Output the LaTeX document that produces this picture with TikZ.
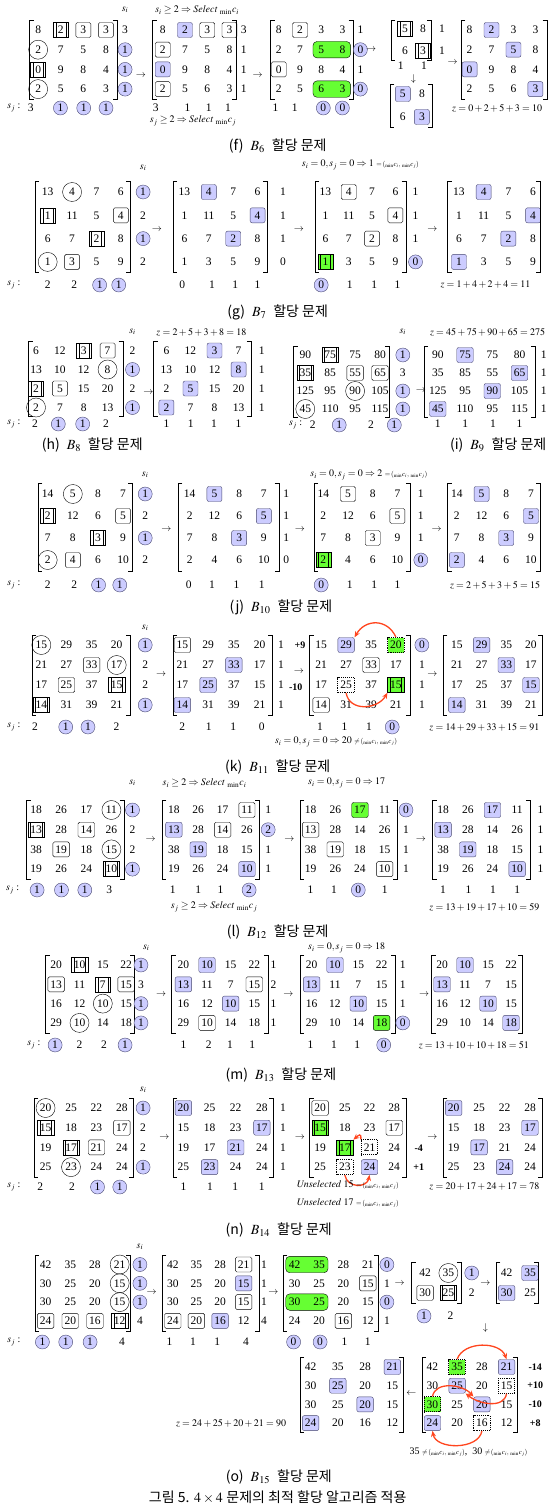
\documentclass[tikz,border=0pt]{standalone}
\usepackage{mathptmx}
\usepackage{fontspec}
\setmainfont{Liberation Serif}
\newfontfamily\cjk{Noto Sans CJK KR}
\usepackage{xcolor}
\usetikzlibrary{arrows.meta,calc,fit}
\pgfdeclarelayer{bg}
\pgfsetlayers{bg,main}

\definecolor{selblue}{RGB}{204,204,255}
\definecolor{selline}{RGB}{70,70,110}
\definecolor{grn}{RGB}{102,255,51}
\definecolor{redarc}{RGB}{255,69,30}

\newcommand{\nfont}{\rmfamily\fontsize{11.5}{12}\selectfont}
\newcommand{\lfont}{\rmfamily\fontsize{10}{11}\selectfont}
\newcommand{\cfont}{\fontsize{14}{16}\selectfont}

\tikzset{
  cell/.style={inner xsep=2.5pt, inner ysep=1pt, minimum width=15pt, minimum height=15pt, font=\nfont},
  pl/.style={},
  ci/.style={circle, draw, minimum size=19pt, inner sep=0pt},
  bx/.style={draw, rounded corners=1.5pt},
  db/.style={draw, path picture={\draw ([xshift=2.5pt]path picture bounding box.north west) -- ([xshift=2.5pt]path picture bounding box.south west) ([xshift=-2.5pt]path picture bounding box.north east) -- ([xshift=-2.5pt]path picture bounding box.south east);}},
  sl/.style={draw=selline, fill=selblue, rounded corners=2pt},
  gr/.style={draw, fill=grn, rounded corners=2pt},
  gd/.style={db, fill=grn},
  dt/.style={draw, densely dotted, line width=0.9pt},
  gt/.style={dt, fill=grn},
  bc/.style={circle, draw=selline, fill=selblue, minimum size=14pt, inner sep=0pt},
  grpair/.style={draw, fill=grn, rounded corners=4pt, inner sep=0.5pt},
  brkline/.style={line width=0.5pt},
  lbl/.style={font=\lfont, inner sep=1pt},
  arr/.style={font=\lfont, inner sep=0pt},
  dlt/.style={font=\lfont\bfseries, inner sep=0pt},
  capt/.style={font=\cfont, inner sep=0pt},
  redarr/.style={draw=redarc, line width=1.3pt, -{Stealth[length=6pt,width=5pt]}}
}

% matrix of cells: name, columns, x, y, dx, dy, value/style list
\newcommand{\mtx}[7]{%
  \foreach \val/\sty [count=\idx from 0] in {#7}{%
    \pgfmathtruncatemacro\rr{div(\idx,#2)+1}%
    \pgfmathtruncatemacro\cc{mod(\idx,#2)+1}%
    \node[cell,\sty] (#1-\rr-\cc) at ({#3+(\cc-1)*#5},{#4+(\rr-1)*#6}) {\val};
  }%
}
\newcommand{\scol}[5]{%
  \foreach \val/\sty [count=\idx] in {#5}{%
    \node[cell,\sty] (#1-\idx) at (#2,{#3+(\idx-1)*#4}) {\val};
  }%
}
\newcommand{\srow}[3]{%
  \foreach \xx/\val/\sty [count=\idx] in {#3}{%
    \node[cell,\sty] (#1-\idx) at (\xx,#2) {\val};
  }%
}
\newcommand{\brk}[4]{%
  \draw[brkline] ({#1+4},#3) -- (#1,#3) -- (#1,#4) -- ({#1+4},#4);
  \draw[brkline] ({#2-4},#3) -- (#2,#3) -- (#2,#4) -- ({#2-4},#4);
}
\newcommand{\pmin}[1]{{\fontsize{7}{8}\selectfont$#1\!({}_{\min}c_i,\,{}_{\min}c_j)$}}
\newcommand{\panelcap}[2]{{\cjk (#1)}\ \ $B_{#2}$\ \ {\cjk 할당 문제}}

\begin{document}
\begin{tikzpicture}[x=1.06pt,y=-1pt]
\useasboundingbox (0,0) rectangle (522.6,1509);

% (f)
\node[lbl] (f-si) at (118,10) {$s_i$};
\node[lbl] (f-top) at (186,10) {$s_i\geq 2\Rightarrow \mathit{Select}\ {}_{\min}c_i$};
\mtx{f1}{4}{36}{30}{21.3}{19.7}{8/pl,2/db,3/bx,3/bx,2/ci,7/pl,5/pl,8/pl,0/db,9/pl,8/pl,4/pl,2/ci,5/pl,6/pl,3/pl}
\brk{28}{111}{20}{99}
\scol{f1s}{118}{30}{19.7}{3/pl,1/bc,1/bc,1/bc}
\node[lbl] (f-sj) at (13,108) {$s_j$ :};
\srow{f1t}{108}{29/3/pl,57/1/bc,79/1/bc,100/1/bc}
\node[arr] (f-a1) at (133,76) {$\rightarrow$};
\mtx{f2}{4}{153.5}{30}{21}{19.7}{8/pl,2/sl,3/bx,3/bx,2/bx,7/pl,5/pl,8/pl,0/sl,9/pl,8/pl,4/pl,2/bx,5/pl,6/pl,3/pl}
\brk{144}{223}{20}{99}
\scol{f2s}{230}{30}{19.7}{3/pl,1/pl,1/pl,1/pl}
\srow{f2t}{108}{147/3/pl,177/1/pl,197/1/pl,215/1/pl}
\node[lbl] (f-bot) at (182,121) {$s_j\geq 2\Rightarrow \mathit{Select}\ {}_{\min}c_j$};
\node[arr] (f-a2) at (243,76) {$\rightarrow$};
\mtx{f3}{4}{263}{30}{20}{19.7}{8/pl,2/bx,3/pl,3/pl,2/pl,7/pl,5/pl,8/pl,0/bx,9/pl,8/pl,4/pl,2/pl,5/pl,6/pl,3/pl}
\begin{pgfonlayer}{bg}
\node[grpair, fit=(f3-2-3)(f3-2-4)] (f3-g1) {};
\node[grpair, fit=(f3-4-3)(f3-4-4)] (f3-g2) {};
\end{pgfonlayer}
\brk{255}{333}{20}{99}
\scol{f3s}{340}{30}{19.7}{1/pl,0/bc,1/pl,0/bc}
\srow{f3t}{108}{260/1/pl,278/1/pl,305/0/bc,323/0/bc}
\node[arr] (f-a3) at (350,50) {$\rightarrow$};
\mtx{f4}{2}{382}{29}{17}{22}{5/db,8/pl,6/pl,3/db}
\brk{369}{407}{20}{60}
\scol{f4s}{417}{29}{22}{1/pl,1/pl}
\srow{f4t}{66}{378/1/pl,400/1/pl}
\node[arr] (f-a4) at (390,79) {$\downarrow$};
\mtx{f5}{2}{380}{94}{18}{23}{5/sl,8/pl,6/pl,3/sl}
\brk{368}{408}{84}{127}
\node[arr] (f-a5) at (427,63) {$\rightarrow$};
\mtx{f6}{4}{443}{30}{20.7}{19.7}{8/pl,2/sl,3/pl,3/pl,2/pl,7/pl,5/sl,8/pl,0/sl,9/pl,8/pl,4/pl,2/pl,5/pl,6/pl,3/sl}
\brk{435}{516}{20}{99}
\node[lbl] (f-z) at (469,108) {$z=0+2+5+3=10$};
\node[capt] (f-cap) at (262,146) {\panelcap{f}{6}};

% (g)
\node[lbl] (g-si) at (135,168) {$s_i$};
\node[lbl] (g-top) at (340,165) {$s_i=0,s_j=0\Rightarrow 1$ \pmin{=}};
\mtx{g1}{4}{45}{192}{23}{23.3}{13/pl,4/ci,7/pl,6/pl,1/db,11/pl,5/pl,4/bx,6/pl,7/pl,2/db,8/pl,1/ci,3/bx,5/pl,9/pl}
\brk{33}{123}{181}{272}
\scol{g1s}{135}{192}{23.3}{1/bc,2/pl,1/bc,2/pl}
\node[lbl] (g-sj) at (13,285) {$s_j$ :};
\srow{g1t}{285}{45/2/pl,70/2/pl,94/1/bc,112/1/bc}
\node[arr] (g-a1) at (148,230) {$\rightarrow$};
\mtx{g2}{4}{174}{192}{23}{23.3}{13/pl,4/sl,7/pl,6/pl,1/pl,11/pl,5/pl,4/sl,6/pl,7/pl,2/sl,8/pl,1/pl,3/pl,5/pl,9/pl}
\brk{163}{252}{181}{272}
\scol{g2s}{267}{192}{23.3}{1/pl,1/pl,1/pl,0/pl}
\srow{g2t}{285}{172/0/pl,200/1/pl,222/1/pl,243/1/pl}
\node[arr] (g-a2) at (282,230) {$\rightarrow$};
\mtx{g3}{4}{307}{192}{22}{23.3}{13/pl,4/bx,7/pl,6/pl,1/pl,11/pl,5/pl,4/bx,6/pl,7/pl,2/bx,8/pl,1/gd,3/pl,5/pl,9/pl}
\brk{297}{383}{181}{272}
\scol{g3s}{392}{192}{23.3}{1/pl,1/pl,1/pl,0/bc}
\srow{g3t}{285}{303/0/bc,330/1/pl,353/1/pl,375/1/pl}
\node[arr] (g-a3) at (408,230) {$\rightarrow$};
\mtx{g4}{4}{433}{192}{23.3}{23.3}{13/pl,4/sl,7/pl,6/pl,1/pl,11/pl,5/pl,4/sl,6/pl,7/pl,2/sl,8/pl,1/sl,3/pl,5/pl,9/pl}
\brk{422}{510}{181}{272}
\node[lbl] (g-z) at (458,285) {$z=1+4+2+4=11$};
\node[capt] (g-cap) at (262,312) {\panelcap{g}{7}};

% (h)
\node[lbl] (h-si) at (125,332) {$s_i$};
\node[lbl] (h-z) at (190,332) {$z=2+5+3+8=18$};
\mtx{h1}{4}{34}{350.5}{22.5}{19}{6/pl,12/pl,3/db,7/bx,13/pl,10/pl,12/pl,8/ci,2/db,5/bx,15/pl,20/pl,2/ci,7/pl,8/pl,13/pl}
\brk{27}{116}{341}{416}
\scol{h1s}{125}{350.5}{19}{2/pl,1/bc,2/pl,1/bc}
\node[lbl] (h-sj) at (13,424) {$s_j$ :};
\srow{h1t}{424}{33/2/pl,55/1/bc,78/1/bc,100/2/pl}
\node[arr] (h-a1) at (140,393) {$\rightarrow$};
\mtx{h2}{4}{157}{350.5}{22.7}{19}{6/pl,12/pl,3/sl,7/pl,13/pl,10/pl,12/pl,8/sl,2/pl,5/sl,15/pl,20/pl,2/sl,7/pl,8/pl,13/pl}
\brk{145}{237}{341}{416}
\scol{h2s}{247}{350.5}{19}{1/pl,1/pl,1/pl,1/pl}
\srow{h2t}{424}{157/1/pl,180/1/pl,202/1/pl,225/1/pl}
\node[capt] (h-cap) at (87,445) {\panelcap{h}{8}};

% (i)
\node[lbl] (i-si) at (380,332) {$s_i$};
\node[lbl] (i-z) at (460,332) {$z=45+75+90+65=275$};
\mtx{i1}{4}{288}{355}{23.5}{18}{90/pl,75/db,75/pl,80/pl,35/db,85/pl,55/bx,65/bx,125/pl,95/pl,90/ci,105/pl,45/ci,110/pl,95/pl,115/pl}
\brk{277}{367}{346}{417}
\scol{i1s}{380}{355}{18}{1/bc,3/pl,1/bc,1/bc}
\node[lbl] (i-sj) at (279,425) {$s_j$ :};
\srow{i1t}{425}{295/2/pl,320/1/bc,350/2/pl,372/1/bc}
\node[arr] (i-a1) at (397,391) {$\rightarrow$};
\mtx{i2}{4}{413}{355}{25.7}{18}{90/pl,75/sl,75/pl,80/pl,35/pl,85/pl,55/pl,65/sl,125/pl,95/pl,90/sl,105/pl,45/sl,110/pl,95/pl,115/pl}
\brk{400}{505}{346}{417}
\scol{i2s}{513}{355}{18}{1/pl,1/pl,1/pl,1/pl}
\srow{i2t}{424}{413/1/pl,439/1/pl,465/1/pl,490/1/pl}
\node[capt] (i-cap) at (470,445) {\panelcap{i}{9}};

% (j)
\node[lbl] (j-si) at (137,475) {$s_i$};
\node[lbl] (j-top) at (348,475) {$s_i=0,s_j=0\Rightarrow 2$ \pmin{=}};
\mtx{j1}{4}{45}{494}{23.7}{22}{14/pl,5/ci,8/pl,7/pl,2/db,12/pl,6/pl,5/bx,7/pl,8/pl,3/db,9/pl,2/ci,4/bx,6/pl,10/pl}
\brk{36}{125}{483}{571}
\scol{j1s}{137}{494}{22}{1/bc,2/pl,1/bc,2/pl}
\node[lbl] (j-sj) at (13,585) {$s_j$ :};
\srow{j1t}{585}{45/2/pl,70/2/pl,93/1/bc,113/1/bc}
\node[arr] (j-a1) at (157,530) {$\rightarrow$};
\mtx{j2}{4}{179}{494}{23.3}{22}{14/pl,5/sl,8/pl,7/pl,2/pl,12/pl,6/pl,5/sl,7/pl,8/pl,3/sl,9/pl,2/pl,4/pl,6/pl,10/pl}
\brk{168}{263}{483}{571}
\scol{j2s}{270}{494}{22}{1/pl,1/pl,1/pl,0/pl}
\srow{j2t}{585}{178/0/pl,200/1/pl,223/1/pl,247/1/pl}
\node[arr] (j-a2) at (283,530) {$\rightarrow$};
\mtx{j3}{4}{305}{494}{23.3}{22}{14/pl,5/bx,8/pl,7/pl,2/pl,12/pl,6/pl,5/bx,7/pl,8/pl,3/bx,9/pl,2/gd,4/pl,6/pl,10/pl}
\brk{296}{387}{483}{571}
\scol{j3s}{397}{494}{22}{1/pl,1/pl,1/pl,0/bc}
\srow{j3t}{585}{303/0/bc,330/1/pl,353/1/pl,375/1/pl}
\node[arr] (j-a3) at (412,530) {$\rightarrow$};
\mtx{j4}{4}{431}{494}{23.3}{22}{14/pl,5/sl,8/pl,7/pl,2/pl,12/pl,6/pl,5/sl,7/pl,8/pl,3/sl,9/pl,2/sl,4/pl,6/pl,10/pl}
\brk{422}{510}{483}{571}
\node[lbl] (j-z) at (467,585) {$z=2+5+3+5=15$};
\node[capt] (j-cap) at (265,607) {\panelcap{j}{10}};

% (k)
\node[lbl] (k-si) at (137,628) {$s_i$};
\mtx{k1}{4}{39}{645}{23.7}{20}{15/ci,29/pl,35/pl,20/pl,21/pl,27/pl,33/bx,17/ci,17/pl,25/bx,37/pl,15/db,14/db,31/pl,39/pl,21/pl}
\brk{30}{123}{635}{715}
\scol{k1s}{137}{645}{20}{1/bc,2/pl,2/pl,1/bc}
\node[lbl] (k-sj) at (13,727) {$s_j$ :};
\srow{k1t}{727}{33/2/pl,62/1/bc,83/1/bc,110/2/pl}
\node[arr] (k-a1) at (152,675) {$\rightarrow$};
\mtx{k2}{4}{172}{645}{24.3}{20}{15/bx,29/pl,35/pl,20/pl,21/pl,27/pl,33/sl,17/pl,17/pl,25/sl,37/pl,15/pl,14/sl,31/pl,39/pl,21/pl}
\brk{163}{257}{635}{715}
\scol{k2s}{265}{645}{20}{1/pl,1/pl,1/pl,1/pl}
\srow{k2t}{727}{172/2/pl,197/1/pl,220/1/pl,247/0/pl}
\node[dlt] (k-d1) at (283,645) {+9};
\node[arr] (k-a2) at (282,672) {$\rightarrow$};
\node[dlt] (k-d2) at (279,687) {-10};
\mtx{k3}{4}{303}{645}{23.5}{20}{15/pl,29/sl,35/pl,20/gt,21/pl,27/pl,33/bx,17/pl,17/pl,25/dt,37/pl,15/gd,14/bx,31/pl,39/pl,21/pl}
\brk{292}{387}{635}{715}
\scol{k3s}{398}{645}{20}{0/bc,1/pl,1/pl,1/pl}
\srow{k3t}{727}{302/1/pl,325/1/pl,348/1/pl,370/0/bc}
\draw[redarr] (k3-1-4.north) to[out=115,in=60,looseness=1.3] (k3-1-2.north east);
\draw[redarr] (k3-3-2.south) to[out=-80,in=-120,looseness=1.2] (k3-3-4.south west);
\node[lbl] (k-bot) at (317,742) {$s_i=0,s_j=0\Rightarrow 20$ \pmin{\neq}};
\node[arr] (k-a3) at (408,675) {$\rightarrow$};
\mtx{k4}{4}{431}{645}{23.3}{20}{15/pl,29/sl,35/pl,20/pl,21/pl,27/pl,33/sl,17/pl,17/pl,25/pl,37/pl,15/sl,14/sl,31/pl,39/pl,21/pl}
\brk{418}{512}{635}{715}
\node[lbl] (k-z) at (457,727) {$z=14+29+33+15=91$};
\node[capt] (k-cap) at (262,767) {\panelcap{k}{11}};

% (l)
\node[lbl] (l-si) at (125,783) {$s_i$};
\node[lbl] (l-top1) at (193,783) {$s_i\geq 2\Rightarrow \mathit{Select}\ {}_{\min}c_i$};
\node[lbl] (l-top2) at (327,783) {$s_i=0,s_j=0\Rightarrow 17$};
\mtx{l1}{4}{34}{810}{23.7}{19.7}{18/pl,26/pl,17/pl,11/ci,13/db,28/pl,14/bx,26/pl,38/pl,19/bx,18/pl,15/ci,19/pl,26/pl,24/pl,10/db}
\brk{25}{117}{800}{879}
\scol{l1s}{125}{810}{19.7}{1/bc,2/pl,2/pl,1/bc}
\node[lbl] (l-sj) at (12,890) {$s_j$ :};
\srow{l1t}{890}{35/1/bc,58/1/bc,80/1/bc,103/3/pl}
\node[arr] (l-a1) at (142,840) {$\rightarrow$};
\mtx{l2}{4}{164}{810}{23}{19.7}{18/pl,26/pl,17/pl,11/bx,13/sl,28/pl,14/bx,26/pl,38/pl,19/sl,18/pl,15/pl,19/pl,26/pl,24/pl,10/sl}
\brk{153}{245}{800}{879}
\scol{l2s}{253}{810}{19.7}{1/pl,2/bc,1/pl,1/pl}
\srow{l2t}{890}{163/1/pl,187/1/pl,208/1/pl,235/2/bc}
\node[lbl] (l-bot) at (202,907) {$s_j\geq 2\Rightarrow \mathit{Select}\ {}_{\min}c_j$};
\node[arr] (l-a2) at (273,840) {$\rightarrow$};
\mtx{l3}{4}{293}{810}{23.3}{19.7}{18/pl,26/pl,17/gr,11/pl,13/bx,28/pl,14/pl,26/pl,38/pl,19/bx,18/pl,15/pl,19/pl,26/pl,24/pl,10/bx}
\brk{283}{375}{800}{879}
\scol{l3s}{383}{810}{19.7}{0/bc,1/pl,1/pl,1/pl}
\srow{l3t}{890}{293/1/pl,315/1/pl,338/0/bc,363/1/pl}
\node[arr] (l-a3) at (397,840) {$\rightarrow$};
\mtx{l4}{4}{418}{810}{23.3}{19.7}{18/pl,26/pl,17/sl,11/pl,13/sl,28/pl,14/pl,26/pl,38/pl,19/sl,18/pl,15/pl,19/pl,26/pl,24/pl,10/sl}
\brk{408}{500}{800}{879}
\scol{l4s}{510}{810}{19.7}{1/pl,1/pl,1/pl,1/pl}
\srow{l4t}{890}{418/1/pl,442/1/pl,465/1/pl,488/1/pl}
\node[lbl] (l-z) at (457,907) {$z=13+19+17+10=59$};
\node[capt] (l-cap) at (262,932) {\panelcap{l}{12}};

% (m)
\node[lbl] (m-si) at (138,948) {$s_i$};
\node[lbl] (m-top) at (327,948) {$s_i=0,s_j=0\Rightarrow 18$};
\mtx{m1}{4}{53}{965}{22}{19.3}{20/pl,10/db,15/pl,22/pl,13/bx,11/pl,7/db,15/bx,16/pl,12/pl,10/ci,15/pl,29/pl,10/ci,14/pl,18/pl}
\brk{43}{127}{955}{1033}
\scol{m1s}{133}{965}{19.3}{1/bc,3/pl,1/bc,1/bc}
\node[lbl] (m-sj) at (32,1045) {$s_j$ :};
\srow{m1t}{1045}{52/1/bc,75/2/pl,98/2/pl,118/1/bc}
\node[arr] (m-a1) at (152,995) {$\rightarrow$};
\mtx{m2}{4}{173}{965}{22.3}{19.3}{20/pl,10/sl,15/pl,22/pl,13/sl,11/pl,7/pl,15/bx,16/pl,12/pl,10/sl,15/pl,29/pl,10/bx,14/pl,18/pl}
\brk{162}{253}{955}{1033}
\scol{m2s}{258}{965}{19.3}{1/pl,2/pl,1/pl,1/pl}
\srow{m2t}{1045}{173/1/pl,197/2/pl,217/1/pl,238/1/pl}
\node[arr] (m-a2) at (272,995) {$\rightarrow$};
\mtx{m3}{4}{294}{965}{22}{19.3}{20/pl,10/sl,15/pl,22/pl,13/sl,11/pl,7/pl,15/pl,16/pl,12/pl,10/sl,15/pl,29/pl,10/pl,14/pl,18/gr}
\brk{283}{373}{955}{1033}
\scol{m3s}{380}{965}{19.3}{1/pl,1/pl,1/pl,0/bc}
\srow{m3t}{1045}{293/1/pl,315/1/pl,337/1/pl,362/0/bc}
\node[arr] (m-a3) at (400,995) {$\rightarrow$};
\mtx{m4}{4}{417}{965}{21.7}{19.3}{20/pl,10/sl,15/pl,22/pl,13/sl,11/pl,7/pl,15/pl,16/pl,12/pl,10/sl,15/pl,29/pl,10/pl,14/pl,18/sl}
\brk{407}{493}{955}{1033}
\node[lbl] (m-z) at (447,1045) {$z=13+10+10+18=51$};
\node[capt] (m-cap) at (265,1075) {\panelcap{m}{13}};

% (n)
\node[lbl] (n-si) at (135,1090) {$s_i$};
\mtx{n1}{4}{43}{1108}{24}{19.7}{20/ci,25/pl,22/pl,28/pl,15/db,18/pl,23/pl,17/bx,19/pl,17/db,21/bx,24/pl,25/pl,23/ci,24/pl,24/pl}
\brk{32}{126}{1098}{1177}
\scol{n1s}{135}{1108}{19.7}{1/bc,2/pl,2/pl,1/bc}
\node[lbl] (n-sj) at (13,1187) {$s_j$ :};
\srow{n1t}{1187}{38/2/pl,68/2/pl,92/1/bc,113/1/bc}
\node[arr] (n-a1) at (155,1138) {$\rightarrow$};
\mtx{n2}{4}{173}{1108}{24.7}{19.7}{20/sl,25/pl,22/pl,28/pl,15/pl,18/pl,23/pl,17/sl,19/pl,17/pl,21/sl,24/pl,25/pl,23/sl,24/pl,24/pl}
\brk{163}{258}{1098}{1177}
\scol{n2s}{267}{1108}{19.7}{1/pl,1/pl,1/pl,1/pl}
\srow{n2t}{1187}{173/1/pl,198/1/pl,222/1/pl,247/1/pl}
\node[arr] (n-a2) at (283,1138) {$\rightarrow$};
\mtx{n3}{4}{302}{1108}{23.3}{19.7}{20/bx,25/pl,22/pl,28/pl,15/gd,18/pl,23/pl,17/bx,19/pl,17/gd,21/dt,24/pl,25/pl,23/dt,24/sl,24/pl}
\brk{292}{383}{1098}{1177}
\draw[redarr] (n3-3-3.north west) to[out=85,in=40,looseness=2.4] (n3-3-2.north east);
\draw[redarr] (n3-4-2.south) to[out=-80,in=-100,looseness=1.4] (n3-4-3.south);
\node[dlt] (n-d1) at (395,1148) {-4};
\node[dlt] (n-d2) at (395,1167) {+1};
\node[lbl] (n-u1) at (328,1185) {$\mathit{Unselected}\ 15$ \pmin{=}};
\node[lbl] (n-u2) at (328,1203) {$\mathit{Unselected}\ 17$ \pmin{=}};
\node[arr] (n-a3) at (408,1138) {$\rightarrow$};
\mtx{n4}{4}{428}{1108}{24}{19.7}{20/sl,25/pl,22/pl,28/pl,15/pl,18/pl,23/pl,17/sl,19/pl,17/sl,21/pl,24/pl,25/pl,23/pl,24/sl,24/pl}
\brk{418}{512}{1098}{1177}
\node[lbl] (n-z) at (457,1187) {$z=20+17+24+17=78$};
\node[capt] (n-cap) at (263,1230) {\panelcap{n}{14}};

% (o)
\node[lbl] (o-si) at (132,1247) {$s_i$};
\mtx{o1}{4}{43}{1264.5}{23.3}{18.8}{42/pl,35/pl,28/pl,21/ci,30/pl,25/pl,20/pl,15/ci,30/pl,25/pl,20/pl,15/ci,24/bx,20/bx,16/bx,12/db}
\brk{33}{123}{1255}{1331}
\scol{o1s}{132}{1264.5}{18.8}{1/bc,1/bc,1/bc,4/pl}
\node[lbl] (o-sj) at (13,1342) {$s_j$ :};
\srow{o1t}{1342}{40/1/bc,62/1/bc,85/1/bc,115/4/pl}
\node[arr] (o-a1) at (143,1293) {$\rightarrow$};
\mtx{o2}{4}{163}{1264.5}{22.3}{18.8}{42/pl,35/pl,28/pl,21/bx,30/pl,25/pl,20/pl,15/sl,30/pl,25/pl,20/pl,15/bx,24/bx,20/bx,16/sl,12/pl}
\brk{153}{245}{1255}{1331}
\scol{o2s}{249}{1264.5}{18.8}{1/pl,1/pl,1/pl,4/pl}
\srow{o2t}{1342}{160/1/pl,182/1/pl,205/1/pl,232/4/pl}
\node[arr] (o-a2) at (258,1293) {$\rightarrow$};
\mtx{o3}{4}{278}{1264.5}{23}{18.8}{42/pl,35/pl,28/pl,21/pl,30/pl,25/pl,20/pl,15/bx,30/pl,25/pl,20/pl,15/pl,24/pl,20/pl,16/bx,12/pl}
\begin{pgfonlayer}{bg}
\node[grpair, fit=(o3-1-1)(o3-1-2)] (o3-g1) {};
\node[grpair, fit=(o3-3-1)(o3-3-2)] (o3-g2) {};
\end{pgfonlayer}
\brk{267}{357}{1255}{1331}
\scol{o3s}{365}{1264.5}{18.8}{0/bc,1/pl,0/bc,1/pl}
\srow{o3t}{1342}{277/0/bc,302/0/bc,325/1/pl,347/1/pl}
\node[arr] (o-a3) at (377,1284) {$\rightarrow$};
\mtx{o4}{2}{401}{1273}{22}{20}{42/pl,35/ci,30/bx,25/db}
\brk{388}{435}{1262}{1303}
\scol{o4s}{445}{1273}{20}{1/bc,2/pl}
\srow{o4t}{1316}{400/1/bc,425/2/pl}
\node[arr] (o-a4) at (458,1284) {$\rightarrow$};
\mtx{o5}{2}{478}{1273}{22}{20}{42/pl,35/sl,30/sl,25/pl}
\brk{468}{508}{1262}{1303}
\node[arr] (o-a5) at (458,1328) {$\downarrow$};
\mtx{o7}{4}{408}{1367}{23.3}{18.7}{42/pl,35/gt,28/pl,21/sl,30/pl,25/sl,20/pl,15/dt,30/gt,25/pl,20/sl,15/pl,24/sl,20/pl,16/dt,12/pl}
\brk{398}{488}{1357}{1432}
\draw[redarr] (o7-1-2.north) to[out=70,in=110] (o7-1-4.north);
\draw[redarr] (o7-3-1.north) to[out=80,in=130] (o7-3-3.north west);
\draw[redarr] (o7-2-4.south) to[out=-100,in=-40] (o7-2-2.south east);
\draw[redarr] (o7-4-3.south) to[out=-100,in=-80] (o7-4-1.south);
\node[dlt] (o-d1) at (505,1367) {-14};
\node[dlt] (o-d2) at (505,1385.7) {+10};
\node[dlt] (o-d3) at (505,1404.4) {-10};
\node[dlt] (o-d4) at (505,1423) {+8};
\node[arr] (o-a6) at (388,1394) {$\leftarrow$};
\mtx{o6}{4}{293}{1367}{25.7}{18.7}{42/pl,35/pl,28/pl,21/sl,30/pl,25/sl,20/pl,15/pl,30/pl,25/pl,20/sl,15/pl,24/sl,20/pl,16/pl,12/pl}
\brk{283}{380}{1357}{1432}
\node[lbl] (o-z) at (218,1423) {$z=24+25+20+21=90$};
\node[lbl] (o-note) at (442,1452) {35 \pmin{\neq}, \ 30 \pmin{\neq}};
\node[capt] (o-cap) at (263,1477) {\panelcap{o}{15}};
\node[capt] (fig-cap) at (262,1497) {{\cjk 그림 5.} $4\times 4$ {\cjk 문제의 최적 할당 알고리즘 적용}};
\end{tikzpicture}
\end{document}
